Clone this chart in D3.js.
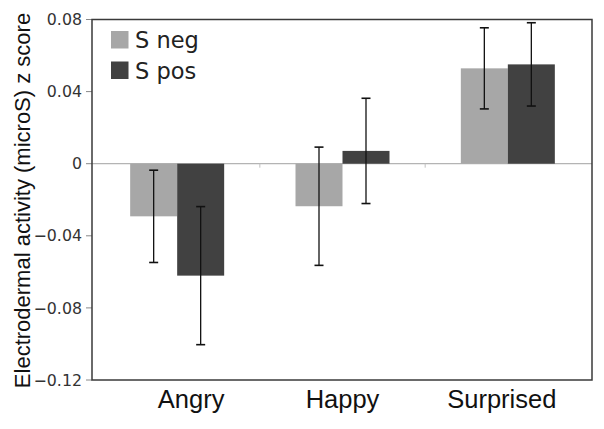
<!DOCTYPE html>
<html>
    <head>
        <meta charset="UTF-8">
        <script src="https://d3js.org/d3.v7.min.js"></script>
        <style>
            body { margin: 0; background: #fff; }
        </style>
    </head>
    <body>
        <script>
            // data
            var categories = ["Angry", "Happy", "Surprised"];
            var seriesNames = ["S neg", "S pos"];
            var sNeg = [-0.0292, -0.0236, 0.0529];
            var sPos = [-0.0621, 0.0071, 0.0551];
            var sNegErr = [0.0256, 0.0328, 0.0225];
            var sPosErr = [0.0383, 0.0292, 0.0231];
            var yTicks = [0.08, 0.04, 0, -0.04, -0.08, -0.12];
            var colors = ["#a7a7a7", "#414141"];
            // category labels sit a bit off the band centres in the original
            var labelNudge = [14, 0, -6];

            var w = 604, h = 429;
            var pL = 92, pR = 592, pT = 19.5, pB = 380;

            var svg = d3.select("body").append("svg")
                    .attr("width", w)
                    .attr("height", h);

            var y = d3.scaleLinear()
                    .domain([-0.12, 0.08])
                    .range([pB, pT]);

            var x = d3.scaleBand()
                    .domain(categories)
                    .range([94.5, 590.5]);

            var groupW = 94;
            var xs = d3.scaleBand()
                    .domain(seriesNames)
                    .range([0, groupW]);

            var rows = [];
            categories.forEach(function(c, i) {
                rows.push({cat: c, s: seriesNames[0], v: sNeg[i], e: sNegErr[i], col: colors[0]});
                rows.push({cat: c, s: seriesNames[1], v: sPos[i], e: sPosErr[i], col: colors[1]});
            });
            function bx(d) { return x(d.cat) + (x.bandwidth() - groupW) / 2 + xs(d.s); }

            // y ticks
            svg.selectAll("line.ytick")
                    .data(yTicks)
                    .enter()
                    .append("line")
                    .attr("x1", pL - 6)
                    .attr("x2", pL)
                    .attr("y1", function(d) { return y(d); })
                    .attr("y2", function(d) { return y(d); })
                    .attr("stroke", "#888")
                    .attr("stroke-width", 1);

            svg.selectAll("text.ylab")
                    .data(yTicks)
                    .enter()
                    .append("text")
                    .attr("x", 82)
                    .attr("y", function(d) { return y(d); })
                    .attr("dy", "0.36em")
                    .attr("text-anchor", "end")
                    .attr("font-family", "DejaVu Sans, Verdana, sans-serif")
                    .attr("font-size", 15.8)
                    .attr("fill", "#333")
                    .text(function(d) { return d === 0 ? "0" : d3.format(".2f")(d); });

            // zero line with small category ticks
            svg.append("line")
                    .attr("x1", pL).attr("x2", pR)
                    .attr("y1", y(0)).attr("y2", y(0))
                    .attr("stroke", "#b4b4b4")
                    .attr("stroke-width", 1.2);

            svg.selectAll("line.xtick")
                    .data(categories.slice(1))
                    .enter()
                    .append("line")
                    .attr("x1", function(d) { return x(d); })
                    .attr("x2", function(d) { return x(d); })
                    .attr("y1", y(0))
                    .attr("y2", y(0) + 4)
                    .attr("stroke", "#c0c0c0");

            // bars
            svg.selectAll("rect.bar")
                    .data(rows)
                    .enter()
                    .append("rect")
                    .attr("x", bx)
                    .attr("width", xs.bandwidth())
                    .attr("y", function(d) { return y(Math.max(0, d.v)); })
                    .attr("height", function(d) { return Math.abs(y(d.v) - y(0)); })
                    .attr("fill", function(d) { return d.col; });

            // error bars
            var eb = svg.selectAll("g.err")
                    .data(rows)
                    .enter()
                    .append("g")
                    .attr("stroke", "#111")
                    .attr("stroke-width", 1.3);
            eb.append("line")
                    .attr("x1", function(d) { return bx(d) + xs.bandwidth() / 2; })
                    .attr("x2", function(d) { return bx(d) + xs.bandwidth() / 2; })
                    .attr("y1", function(d) { return y(d.v + d.e); })
                    .attr("y2", function(d) { return y(d.v - d.e); });
            [1, -1].forEach(function(sg) {
                eb.append("line")
                        .attr("x1", function(d) { return bx(d) + xs.bandwidth() / 2 - 4.5; })
                        .attr("x2", function(d) { return bx(d) + xs.bandwidth() / 2 + 4.5; })
                        .attr("y1", function(d) { return y(d.v + sg * d.e); })
                        .attr("y2", function(d) { return y(d.v + sg * d.e); })
                        .attr("stroke-width", 1.6);
            });

            // frame
            svg.append("rect")
                    .attr("x", pL).attr("y", pT)
                    .attr("width", pR - pL).attr("height", pB - pT)
                    .attr("fill", "none")
                    .attr("stroke", "#3a3a3a")
                    .attr("stroke-width", 1.5);

            // category labels
            svg.selectAll("text.xlab")
                    .data(categories)
                    .enter()
                    .append("text")
                    .attr("x", function(d, i) { return x(d) + x.bandwidth() / 2 + labelNudge[i]; })
                    .attr("y", 407.7)
                    .attr("text-anchor", "middle")
                    .attr("font-family", "Liberation Sans, Arial, sans-serif")
                    .attr("font-size", 25.5)
                    .attr("fill", "#111")
                    .text(function(d) { return d; });

            // y title
            svg.append("text")
                    .attr("transform", "translate(29.5,200.5) rotate(-90)")
                    .attr("text-anchor", "middle")
                    .attr("font-family", "Liberation Sans, Arial, sans-serif")
                    .attr("font-size", 22)
                    .attr("fill", "#111")
                    .text("Electrodermal activity (microS) z score");

            // legend
            var lg = svg.selectAll("g.leg")
                    .data(seriesNames)
                    .enter()
                    .append("g")
                    .attr("transform", function(d, i) { return "translate(111," + (31 + i * 30.5) + ")"; });
            lg.append("rect")
                    .attr("width", 17.5).attr("height", 17.5)
                    .attr("fill", function(d, i) { return colors[i]; });
            lg.append("text")
                    .attr("x", 24).attr("y", 17.3)
                    .attr("font-family", "DejaVu Sans, Verdana, sans-serif")
                    .attr("font-size", 22.5)
                    .attr("fill", "#222")
                    .text(function(d) { return d; });
        </script>
    </body>
</html>
